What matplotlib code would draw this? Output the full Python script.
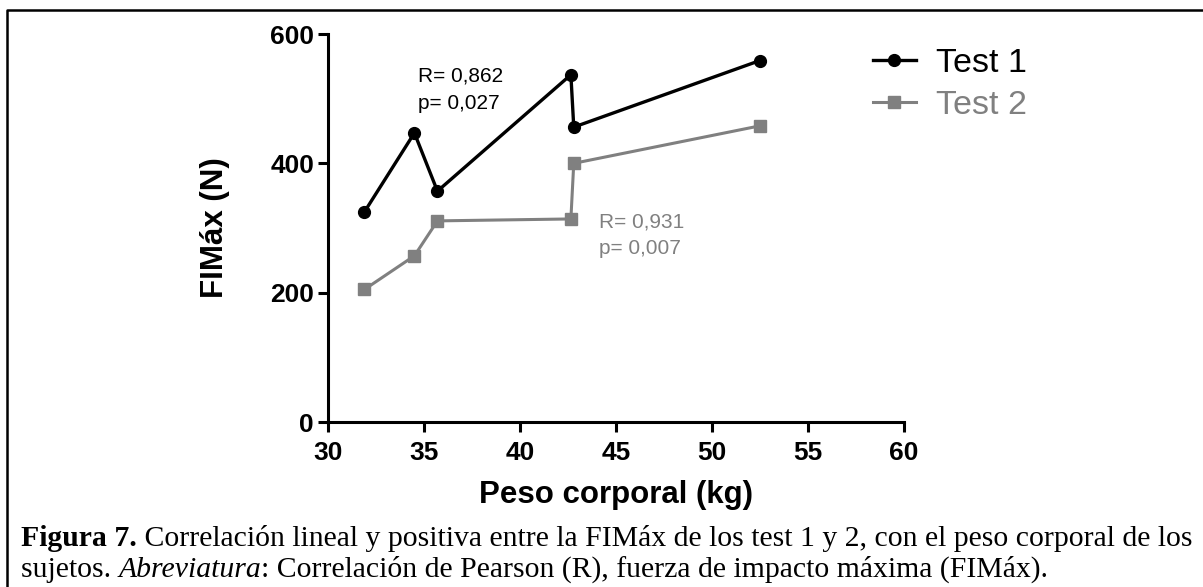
import matplotlib
matplotlib.use('Agg')
import matplotlib.pyplot as plt
from matplotlib.lines import Line2D

# ----------------------------------------
# data
peso = [31.9, 34.5, 35.7, 42.65, 42.8, 52.5]
test1 = [325, 447, 357, 537, 456, 559]
test2 = [205, 257, 311, 314, 400, 458]
series_labels = ['Test 1', 'Test 2']
xticks = [30, 35, 40, 45, 50, 55, 60]
yticks = [0, 200, 400, 600]

sans = ['Liberation Sans', 'DejaVu Sans']
serif = ['Liberation Serif', 'DejaVu Serif']
grey = '#808080'

fig = plt.figure(figsize=(12.03, 5.87), dpi=100)
ax = fig.add_axes([328/1203, 1-422/587, (904-328)/1203, (422-34)/587])

ax.plot(peso, test1, color='black', lw=2.4, marker='o', ms=8.5, label=series_labels[0], clip_on=False)
ax.plot(peso, test2, color=grey, lw=2.2, marker='s', ms=8.5, label=series_labels[1], clip_on=False)

ax.set_xlim(30, 60)
ax.set_ylim(0, 600)
ax.set_xticks(xticks)
ax.set_yticks(yticks)
for s in ['top', 'right']:
    ax.spines[s].set_visible(False)
for s in ['left', 'bottom']:
    ax.spines[s].set_linewidth(2.2)
ax.tick_params(width=2.2, length=7, direction='out')
ax.tick_params(axis='x', pad=7)
ax.tick_params(axis='y', pad=3)
for lab in ax.get_xticklabels() + ax.get_yticklabels():
    lab.set_family(sans)
    lab.set_fontweight('bold')
    lab.set_fontsize(19)

ax.set_xlabel('Peso corporal (kg)', family=sans, weight='bold', fontsize=22.5)
ax.set_ylabel('FIMáx (N)', family=sans, weight='bold', fontsize=22.5)
ax.xaxis.set_label_coords(0.5, -0.149)
ax.yaxis.set_label_coords(-0.17, 0.5)

# correlation notes
ax.text(34.7, 535, 'R= 0,862', family=sans, fontsize=15, va='center', color='black')
ax.text(34.7, 493, 'p= 0,027', family=sans, fontsize=15, va='center', color='black')
ax.text(44.1, 310, 'R= 0,931', family=sans, fontsize=15, va='center', color=grey)
ax.text(44.1, 269, 'p= 0,007', family=sans, fontsize=15, va='center', color=grey)

leg = ax.legend(loc='upper left', bbox_to_anchor=(873/1203, 1-48/587), bbox_transform=fig.transFigure,
                frameon=False, prop={'family': sans, 'size': 24.5}, handlelength=1.25,
                handletextpad=0.6, labelspacing=0.33, borderpad=0, borderaxespad=0)
for txt, col in zip(leg.get_texts(), ['black', grey]):
    txt.set_color(col)

# frame lines of the figure box
fig.add_artist(Line2D([7/1203, 7/1203, 1], [0, 1-10/587, 1-10/587], transform=fig.transFigure,
                      color='black', lw=1.8))

# caption
cs = 21.4
t1 = fig.text(21/1203, 1-538/587, 'Figura 7.', family=serif, weight='bold', fontsize=cs, va='center')
ax.annotate(' Correlación lineal y positiva entre la FIMáx de los test 1 y 2, con el peso corporal de los',
            xy=(1, 0), xycoords=t1, va='bottom', ha='left', family=serif, fontsize=cs, annotation_clip=False)
t2 = fig.text(21/1203, 1-570/587, 'sujetos. ', family=serif, fontsize=cs, va='center')
t3 = ax.annotate('Abreviatura', xy=(1, 0), xycoords=t2, va='bottom', ha='left',
                 family=serif, fontsize=cs, style='italic', annotation_clip=False)
ax.annotate(': Correlación de Pearson (R), fuerza de impacto máxima (FIMáx).', xy=(1, 0), xycoords=t3,
            va='bottom', ha='left', family=serif, fontsize=cs, annotation_clip=False)

fig.savefig('out.png', dpi=100)
